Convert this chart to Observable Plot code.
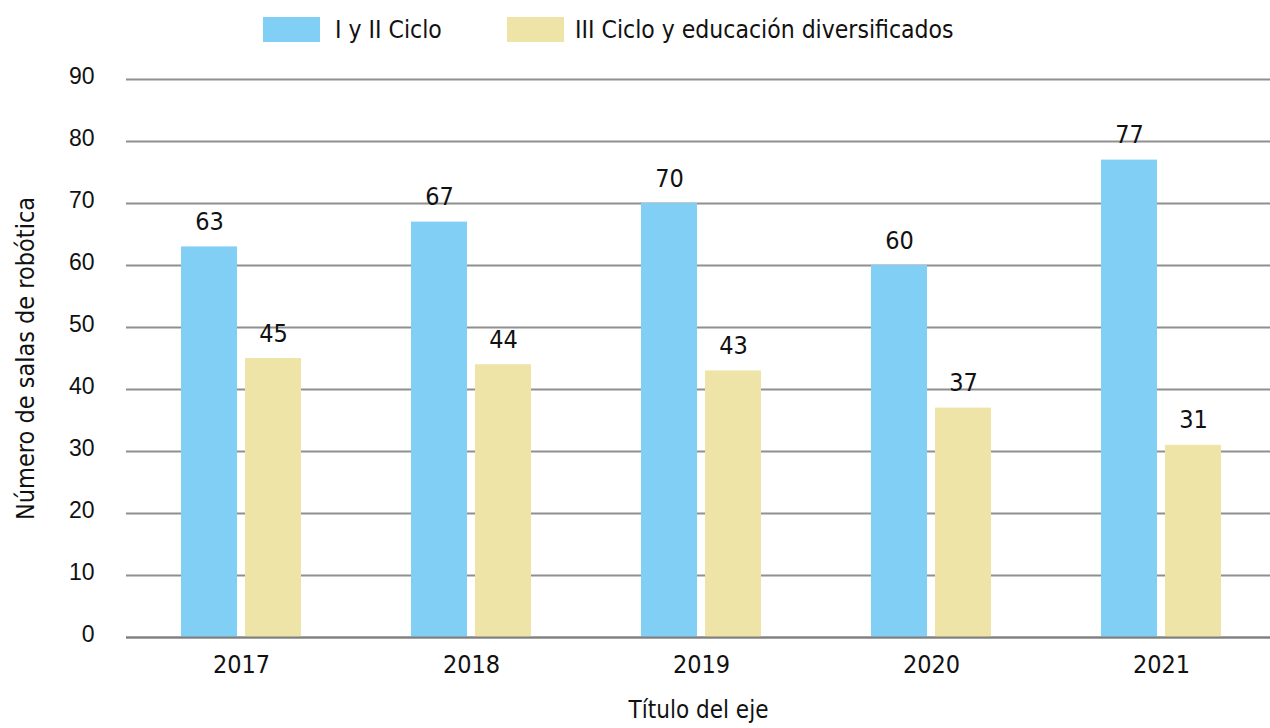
<!DOCTYPE html>
<html><head><meta charset="utf-8">
<script src="https://cdn.jsdelivr.net/npm/d3@7"></script>
<script src="https://cdn.jsdelivr.net/npm/@observablehq/plot@0.6"></script>
<style>
body{margin:0;background:#fff;}
#legend{height:58px;position:relative;font-family:"Liberation Sans Narrow","DejaVu Sans Condensed","Roboto Condensed",sans-serif;font-size:24.5px;color:#111;}
.item{position:absolute;top:17px;display:flex;align-items:center;height:25px;white-space:nowrap;}
.sw{width:57px;height:25px;margin-right:15px;}
.narrow{font-family:"Liberation Sans Narrow","DejaVu Sans Condensed","Roboto Condensed",sans-serif;}
svg g[aria-label="y-axis tick label"] text{font-family:"Liberation Sans",Arial,sans-serif;font-size:23px;}
svg g[aria-label="x-axis tick label"] text{font-family:"Liberation Sans Narrow","DejaVu Sans Condensed",sans-serif;font-size:25px;}
svg g[aria-label="x-axis label"] text{font-family:"Liberation Sans Narrow","DejaVu Sans Condensed",sans-serif;font-size:24px;}
svg g[aria-label="y-axis label"] text{font-family:"Liberation Sans Narrow","DejaVu Sans Condensed",sans-serif;font-size:25px;}
</style>
</head><body>
<div id="legend"></div>
<div id="chart"></div>
<script>
const years = ["2017", "2018", "2019", "2020", "2021"];
const seriesNames = ["I y II Ciclo", "III Ciclo y educación diversificados"];
const cicloI_II = [63, 67, 70, 60, 77];
const cicloIII = [45, 44, 43, 37, 31];
const yTicks = [0, 10, 20, 30, 40, 50, 60, 70, 80, 90];
const colors = ["#82cff5", "#efe4a7"];

const dataA = years.map((y, i) => ({year: y, value: cicloI_II[i]}));
const dataB = years.map((y, i) => ({year: y, value: cicloIII[i]}));

// legend
const legend = document.getElementById("legend");
const legendLefts = [263, 507];
const legendGaps = [15, 11];
seriesNames.forEach((n, i) => {
  const it = document.createElement("div");
  it.className = "item";
  it.style.left = legendLefts[i] + "px";
  it.innerHTML = `<div class="sw" style="background:${colors[i]};margin-right:${legendGaps[i]}px"></div><span>${n}</span>`;
  legend.appendChild(it);
});

const inset = 64, half = 32;
const chart = Plot.plot({
  width: 1270,
  height: 670,
  marginTop: 21,
  marginBottom: 91,
  marginLeft: 126,
  marginRight: 0,
  style: {background: "#fff", color: "#111", overflow: "visible"},
  x: {domain: years, range: [126, 1276], paddingInner: 0.478, paddingOuter: 0.239},
  y: {domain: [0, 90]},
  marks: [
    Plot.gridY(yTicks, {stroke: "#8f8f8f", strokeOpacity: 1, strokeWidth: 2}),
    Plot.barY(dataA, {x: "year", y: "value", fill: colors[0], insetRight: inset}),
    Plot.barY(dataB, {x: "year", y: "value", fill: colors[1], insetLeft: inset}),
    Plot.ruleY([0], {stroke: "#808080", strokeWidth: 2}),
    Plot.text(dataA, {x: "year", y: "value", text: d => String(d.value), dx: -half, dy: -17, lineAnchor: "bottom", fontSize: 25, fill: "#111", className: "narrow"}),
    Plot.text(dataB, {x: "year", y: "value", text: d => String(d.value), dx: half, dy: -17, lineAnchor: "bottom", fontSize: 25, fill: "#111", className: "narrow"}),
    Plot.axisY({ticks: yTicks, tickSize: 0, tickPadding: 32, dy: -3, label: "Número de salas de robótica", labelAnchor: "center", labelArrow: "none", labelOffset: 110}),
    Plot.axisX({tickSize: 0, tickPadding: 18, label: "Título del eje", labelAnchor: "center", labelArrow: "none", labelOffset: 80})
  ]
});
document.getElementById("chart").appendChild(chart);
</script>
</body></html>
